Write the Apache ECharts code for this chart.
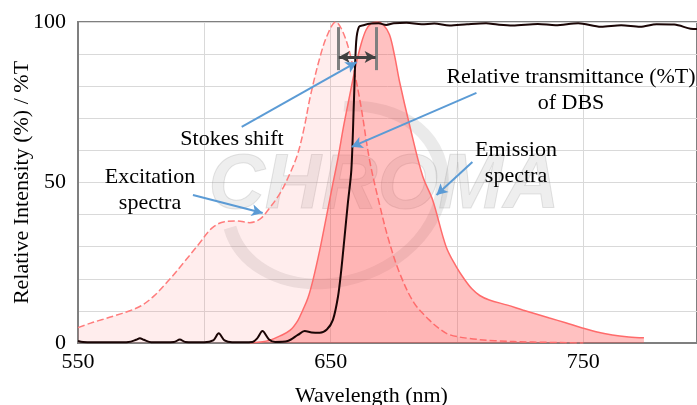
<!DOCTYPE html>
<html>
<head>
<meta charset="utf-8">
<script src="https://cdn.jsdelivr.net/npm/echarts@6/dist/echarts.min.js"></script>
<style>
html,body{margin:0;padding:0;background:#fff;}
#chart{width:697px;height:405px;}
</style>
</head>
<body>
<div id="chart"></div>
<script>
// ---- data (wavelength nm, value %) ----
const excitation = [
  [550,4.8],[555,6.2],[560,7.4],[565,8.6],[570,9.9],[575,11.6],[580,14.6],[586,19.6],[592,25.2],[598,31],
  [603,35.8],[608,37.8],[613,38],[618,37.5],[622,38.6],[625,41.2],[630,46.7],[634,53],
  [637,59],[639.5,67],[642,77],[646,89.7],[649,96.5],[652,100],[654.5,97.5],[657.5,90.6],
  [661.5,76],[665.4,57],[669.4,43],[673,32],[677.3,21.8],[683,12.5],[689,7.2],[693,4.5],
  [697,2.6],[705,1.4],[715,0.7],[730,0.3],[750,0]
];
const emission = [
  [618,0],[622,0.3],[626,0.9],[630,2.2],[634,4],[637,7],[639,10.3],[641,14],[643,19.6],
  [645.7,29],[648.3,39.3],[650.9,49.7],[653,58],[655,67],[657,75],[660,86.6],[662,93],
  [664,97.5],[666,99.5],[668.5,100],[671,99],[673.3,96],[675.3,89.5],[677.3,81.3],
  [681.2,68],[686.4,52],[690.4,44.5],[695.7,30],[699.7,23.8],[703,19.8],[706,16.8],
  [709,14.8],[712.8,13.4],[720,11.8],[726,10.3],[736.6,7.8],[743,6.3],[749.6,4.7],[755,3.5],
  [761.5,2.5],[768,1.9],[774,1.6]
];
const transmittance = [
  [550,0.6],[552,0.3],[556,0.2],[565,0.2],[570,0.3],[573,1.0],[574.5,1.5],[576,1.0],
  [579,0.2],[588,0.3],[590.3,1.1],[592.5,0.3],[600,0.2],[603.5,0.8],[605.7,3.0],[608,0.8],
  [611,0.2],[619,0.3],[621,1.5],[623,3.7],[625.5,1.2],[628,0.3],[633,0.6],[637,2.5],
  [639.7,3.7],[642.5,3.3],[645.7,3.2],[648.5,4.2],[650.9,7.2],[652.9,14.4],[654.2,22.7],
  [655.5,33],[656.8,43.5],[658.2,54],[659.2,75],[660.1,93.8],[661.2,98.5],[663,99],
  [666,99.5],[669,99.6],[672,99.1],[675,99.6],[680,99.8],[686,99.3],[691,99.5],[697,98.9],
  [704,99.3],[711.5,99.6],[716,99.2],[722,98.9],[732,99.4],[739,99.0],[748,99.6],
  [757,98.5],[765,99.0],[772.5,98.5],[779,99.3],[786,99.2],[792.5,97.9],[795,97.8]
];
const stokesPeaks = [652.9, 668.1];
const xLabelValues = [550, 650, 750];
const yLabelValues = [0, 50, 100];

// annotation arrows: [from, to] in data coords
const blueArrows = [
  [[614.8,67.3],[660.3,87.5]],
  [[707.7,77.9],[658.3,61.1]],
  [[706.1,56.4],[691.9,46.1]],
  [[595.5,46.1],[623.1,40.5]]
];

const FONT = 'Liberation Serif';
const chart = echarts.init(document.getElementById('chart'), null, {renderer:'canvas'});

const option = {
  animation: false,
  backgroundColor: '#fff',
  grid: {left:78, top:22, right:0, bottom:62, outerBoundsMode:'none', containLabel:false,
         show:true, borderColor:'#7f7f7f', borderWidth:2, backgroundColor:'transparent'},
  xAxis: {
    type:'value', min:550, max:795, interval:50,
    name:'Wavelength (nm)', nameLocation:'middle', nameGap:42, nameMoveOverlap:false,
    nameTextStyle:{fontFamily:FONT, fontSize:22, color:'#000', padding:[0,32,0,0]},
    axisLine:{show:true, lineStyle:{color:'#7f7f7f', width:2}},
    axisTick:{show:false},
    splitLine:{show:true, lineStyle:{color:'#d9d9d9', width:1}},
    axisLabel:{fontFamily:FONT, fontSize:22, color:'#000', margin:8, showMaxLabel:false,
      formatter: v => xLabelValues.includes(v) ? String(v) : ''}
  },
  yAxis: {
    type:'value', min:0, max:100, interval:10,
    name:'Relative Intensity (%) / %T', nameLocation:'middle', nameGap:45, nameMoveOverlap:false,
    nameTextStyle:{fontFamily:FONT, fontSize:22, color:'#000'},
    axisLine:{show:true, lineStyle:{color:'#7f7f7f', width:2}},
    axisTick:{show:false},
    splitLine:{show:true, lineStyle:{color:'#d9d9d9', width:1}},
    axisLabel:{fontFamily:FONT, fontSize:22, color:'#000', margin:12,
      formatter: v => yLabelValues.includes(v) ? String(v) : ''}
  },
  graphic: [
    // watermark
    {type:'arc', z:1, silent:true, x:335, y:195, rotation:0.35, scaleY:0.78,
     shape:{cx:0, cy:0, r:110, startAngle:-Math.PI/2.6, endAngle:Math.PI*1.02, clockwise:true},
     style:{stroke:'rgba(150,150,150,0.2)', lineWidth:13, fill:null}},
    {type:'text', z:1, silent:true, x:384, y:186,
     style:{text:'CHROMA', font:'italic bold 78px "Liberation Sans"', fill:'rgba(160,160,160,0.18)',
       stroke:'rgba(150,150,150,0.25)', lineWidth:1, align:'center', verticalAlign:'middle'}},
    // annotation texts
    {type:'text', z:100, x:232, y:139, style:{text:'Stokes shift', font:'22px "Liberation Serif"', fill:'#000', align:'center', verticalAlign:'middle'}},
    {type:'text', z:100, x:150, y:177, style:{text:'Excitation', font:'22px "Liberation Serif"', fill:'#000', align:'center', verticalAlign:'middle'}},
    {type:'text', z:100, x:150, y:203, style:{text:'spectra', font:'22px "Liberation Serif"', fill:'#000', align:'center', verticalAlign:'middle'}},
    {type:'text', z:100, x:571, y:77, style:{text:'Relative transmittance (%T)', font:'22px "Liberation Serif"', fill:'#000', align:'center', verticalAlign:'middle'}},
    {type:'text', z:100, x:571, y:103, style:{text:'of DBS', font:'22px "Liberation Serif"', fill:'#000', align:'center', verticalAlign:'middle'}},
    {type:'text', z:100, x:516, y:150, style:{text:'Emission', font:'22px "Liberation Serif"', fill:'#000', align:'center', verticalAlign:'middle'}},
    {type:'text', z:100, x:516, y:176, style:{text:'spectra', font:'22px "Liberation Serif"', fill:'#000', align:'center', verticalAlign:'middle'}}
  ],
  series: [
    {
      name:'Excitation', type:'line', data:excitation, smooth:0.35, showSymbol:false, z:2,
      lineStyle:{color:'#ff7c7c', width:1.5, type:[7,3]},
      areaStyle:{color:'rgba(255,130,130,0.2)'}
    },
    {
      name:'Emission', type:'line', data:emission, smooth:0.35, showSymbol:false, z:3,
      lineStyle:{color:'#ff6b6b', width:1.5},
      areaStyle:{color:'rgba(255,80,80,0.5)'}
    },
    {
      name:'Transmittance', type:'line', data:transmittance, smooth:0.3, showSymbol:false, z:4,
      lineStyle:{color:'#1a0505', width:2},
      markLine:{
        silent:true, symbol:['none','none'], label:{show:false},
        lineStyle:{color:'#7f7f7f', width:3, type:'solid'},
        data: stokesPeaks.map(p => [{coord:[p,98.4]},{coord:[p,85]}])
      }
    },
    {
      name:'StokesArrow', type:'line', data:[], z:5,
      markLine:{
        silent:true, symbol:['arrow','arrow'], symbolSize:[9,11], label:{show:false},
        lineStyle:{color:'#404040', width:3, type:'solid'},
        data:[[{coord:[stokesPeaks[0]+0.3,89.1]},{coord:[stokesPeaks[1]-0.3,89.1]}]]
      }
    },
    {
      name:'Annotations', type:'line', data:[], z:6,
      markLine:{
        silent:true, symbol:['none','arrow'], symbolSize:[9,11], label:{show:false},
        lineStyle:{color:'#5b9bd5', width:2, type:'solid'},
        data: blueArrows.map(a => [{coord:a[0]},{coord:a[1]}])
      }
    }
  ]
};
chart.setOption(option);
</script>
</body>
</html>
